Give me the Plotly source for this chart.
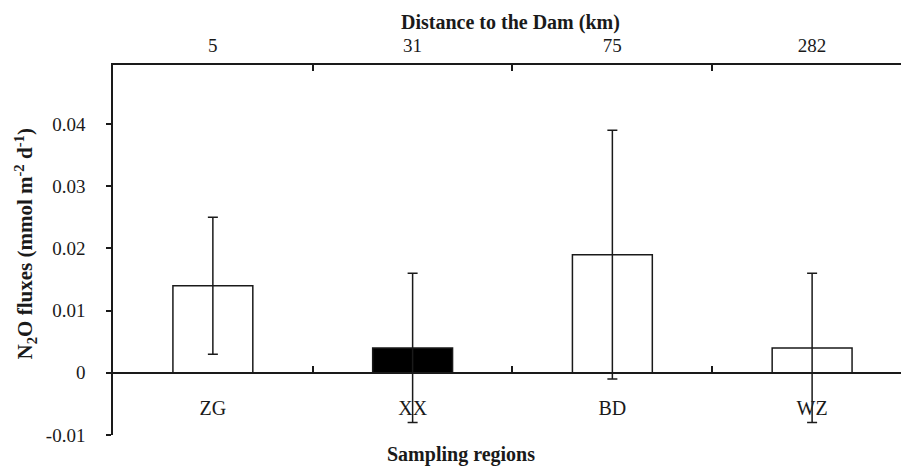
import plotly.graph_objects as go

regions = ["ZG", "XX", "BD", "WZ"]
distance_km = ["5", "31", "75", "282"]
flux = [0.014, 0.004, 0.019, 0.004]
flux_err = [0.011, 0.012, 0.020, 0.012]
bar_fill = ["white", "black", "white", "white"]

ytick_vals = [-0.01, 0, 0.01, 0.02, 0.03, 0.04]
ytick_text = ["-0.01", "0", "0.01", "0.02", "0.03", "0.04"]

FONT = "Liberation Serif"
INK = "#1a1a1a"
xpos = list(range(len(regions)))
boundaries = [i + 0.5 for i in xpos]
y_range = [-0.01, 0.0495]
x_range = [-0.5, 3.445]

fig = go.Figure()
fig.add_trace(go.Bar(
    x=xpos, y=flux, width=0.4,
    marker=dict(color=bar_fill, line=dict(color=INK, width=1.5)),
    error_y=dict(type="data", array=flux_err, visible=True,
                 color=INK, thickness=1.5, width=5),
    hovertext=regions, showlegend=False,
))
fig.add_trace(go.Scatter(
    x=xpos, y=[None] * len(xpos), xaxis="x2", mode="markers",
    hovertext=distance_km, showlegend=False,
))

zero_pos = (0 - y_range[0]) / (y_range[1] - y_range[0])

fig.update_layout(
    width=901, height=471,
    margin=dict(l=113, r=0, t=65, b=36),
    paper_bgcolor="white", plot_bgcolor="white",
    font=dict(family=FONT, size=19, color=INK),
    xaxis=dict(
        range=x_range, tickmode="array", tickvals=xpos, ticktext=regions,
        anchor="free", position=zero_pos,
        showline=True, linecolor=INK, linewidth=1.5,
        ticks="", showgrid=False, zeroline=False,
        ticklabelstandoff=17,
        tickfont=dict(family=FONT, size=20, color=INK),
        minor=dict(tickmode="array", tickvals=boundaries, ticks="inside",
                   ticklen=6, tickwidth=1.5, tickcolor=INK, showgrid=False),
    ),
    xaxis2=dict(
        range=x_range, overlaying="x", side="top", anchor="y",
        tickmode="array", tickvals=xpos, ticktext=distance_km,
        showline=True, linecolor=INK, linewidth=1.5,
        ticks="", showgrid=False, zeroline=False,
        ticklabelstandoff=4,
        tickfont=dict(family=FONT, size=19, color=INK),
        minor=dict(tickmode="array", tickvals=boundaries, ticks="inside",
                   ticklen=6, tickwidth=1.5, tickcolor=INK, showgrid=False),
    ),
    yaxis=dict(
        range=y_range, tickmode="array", tickvals=ytick_vals, ticktext=ytick_text,
        showline=True, linecolor=INK, linewidth=1.5,
        ticks="outside", ticklen=5, tickwidth=1.5, tickcolor=INK,
        showgrid=False, zeroline=False,
        ticklabelstandoff=17,
        tickfont=dict(family=FONT, size=19, color=INK),
    ),
    annotations=[
        dict(text="<b>Distance to the Dam (km)</b>", xref="paper", yref="paper",
             x=(510 - 113) / 788, y=1, yshift=43, showarrow=False,
             xanchor="center", yanchor="middle",
             font=dict(family=FONT, size=20, color=INK)),
        dict(text="<b>Sampling regions</b>", xref="paper", yref="paper",
             x=(461 - 113) / 788, y=0, yshift=-19, showarrow=False,
             xanchor="center", yanchor="middle",
             font=dict(family=FONT, size=20, color=INK)),
        dict(text="<b>N<sub>2</sub>O fluxes (mmol m<sup>-2</sup> d<sup>-1</sup>)</b>",
             xref="paper", yref="paper", x=(25 - 113) / 788, y=0.515,
             textangle=-90, showarrow=False, xanchor="center", yanchor="middle",
             font=dict(family=FONT, size=21, color=INK)),
    ],
)

fig.write_html("out.html")
